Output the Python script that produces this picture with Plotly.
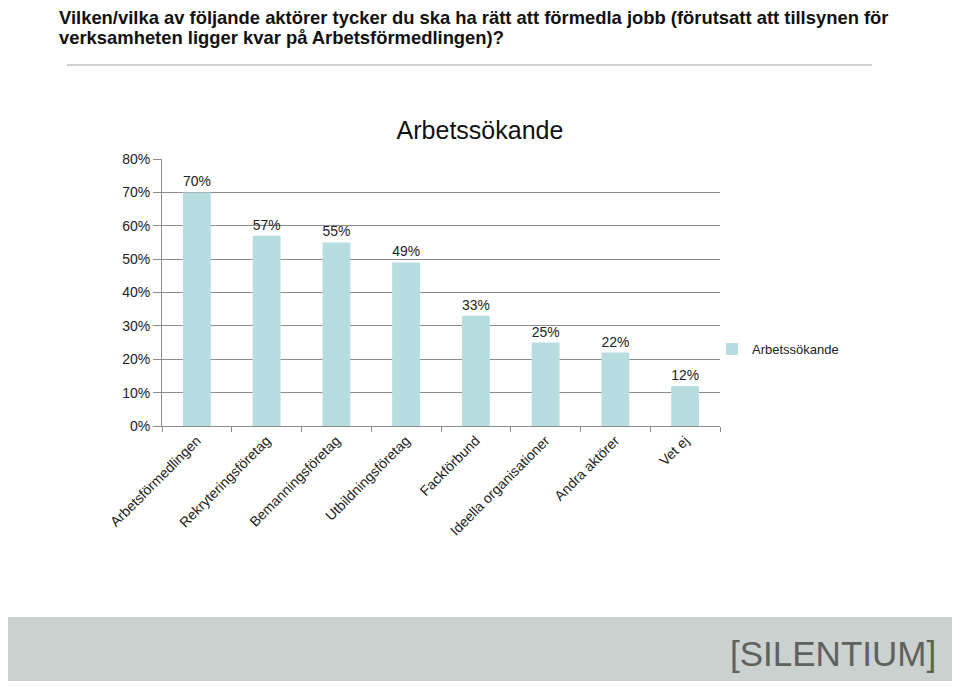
import plotly.graph_objects as go

categories = ["Arbetsförmedlingen", "Rekryteringsföretag", "Bemanningsföretag",
              "Utbildningsföretag", "Fackförbund", "Ideella organisationer",
              "Andra aktörer", "Vet ej"]
values = [70, 57, 55, 49, 33, 25, 22, 12]
value_labels = ["70%", "57%", "55%", "49%", "33%", "25%", "22%", "12%"]
series_name = "Arbetssökande"
y_ticks = [0, 10, 20, 30, 40, 50, 60, 70, 80]
y_tick_labels = ["0%", "10%", "20%", "30%", "40%", "50%", "60%", "70%", "80%"]
question_lines = [
    "Vilken/vilka av följande aktörer tycker du ska ha rätt att förmedla jobb (förutsatt att tillsynen för",
    "verksamheten ligger kvar på Arbetsförmedlingen)?",
]

FONT = "Liberation Sans, Arial, sans-serif"
BAR = "#b7dde0"
GRID = "#8c8c8c"

W, H = 944, 673
L, R, T, B = 154, 712, 151, 418   # plot area in figure pixels
PW, PH = R - L, B - T


def px(x):
    return (x - L) / PW


def py(y):
    return (B - y) / PH


fig = go.Figure()
fig.add_trace(go.Bar(
    x=categories, y=values, name=series_name,
    marker=dict(color=BAR, line=dict(width=0)),
    text=value_labels, textposition="outside", cliponaxis=False,
    textfont=dict(family=FONT, size=14, color="#222"),
    width=0.4, showlegend=True,
))

fig.update_layout(
    width=W, height=H,
    paper_bgcolor="white", plot_bgcolor="white",
    margin=dict(l=L, r=W - R, t=T, b=H - B),
    font=dict(family=FONT, size=14, color="#222"),
    title=dict(text=series_name, x=0.5, xanchor="center", xref="container",
               y=1 - 122 / H, yanchor="middle",
               font=dict(family=FONT, size=25, color="#111")),
    showlegend=True,
    legend=dict(x=px(704), xanchor="left", y=py(341), yanchor="middle",
                font=dict(family=FONT, size=13, color="#222"),
                bgcolor="rgba(0,0,0,0)", itemwidth=30),
)
fig.update_yaxes(
    range=[0, 80], tickvals=y_ticks, ticktext=y_tick_labels,
    showgrid=True, gridcolor=GRID, gridwidth=1,
    showline=True, linecolor=GRID, linewidth=1,
    ticks="outside", ticklen=8, tickcolor=GRID,
    tickfont=dict(family=FONT, size=14, color="#222"),
    zeroline=False, fixedrange=True,
)
fig.update_xaxes(
    showline=True, linecolor=GRID, linewidth=1,
    ticks="outside", ticklen=5, tickcolor=GRID, tickson="boundaries",
    tickangle=-45, tickfont=dict(family=FONT, size=14, color="#222"),
    showgrid=False,
)

# Slide decorations
for line, yc in zip(question_lines, [9, 29]):
    fig.add_annotation(
        text=line, xref="paper", yref="paper", x=px(49), y=py(yc),
        xanchor="left", yanchor="middle", align="left", showarrow=False,
        font=dict(family=FONT, size=18.4, color="#111", weight="bold"),
    )
fig.add_shape(type="line", xref="paper", yref="paper",
              x0=px(59), x1=px(864), y0=py(57), y1=py(57),
              line=dict(color="#d0d0d0", width=2))
fig.add_shape(type="rect", xref="paper", yref="paper",
              x0=px(-5), x1=px(W + 5), y0=py(H + 5), y1=py(609),
              line=dict(width=0), fillcolor="#cbd1ce", layer="below")
fig.add_annotation(
    text="[SILENTIUM]",
    xref="paper", yref="paper",
    x=px(930), y=py(645), xanchor="right", yanchor="middle",
    showarrow=False,
    font=dict(family=FONT, size=35, color="#5d625f"),
)

fig.write_html("out.html")
